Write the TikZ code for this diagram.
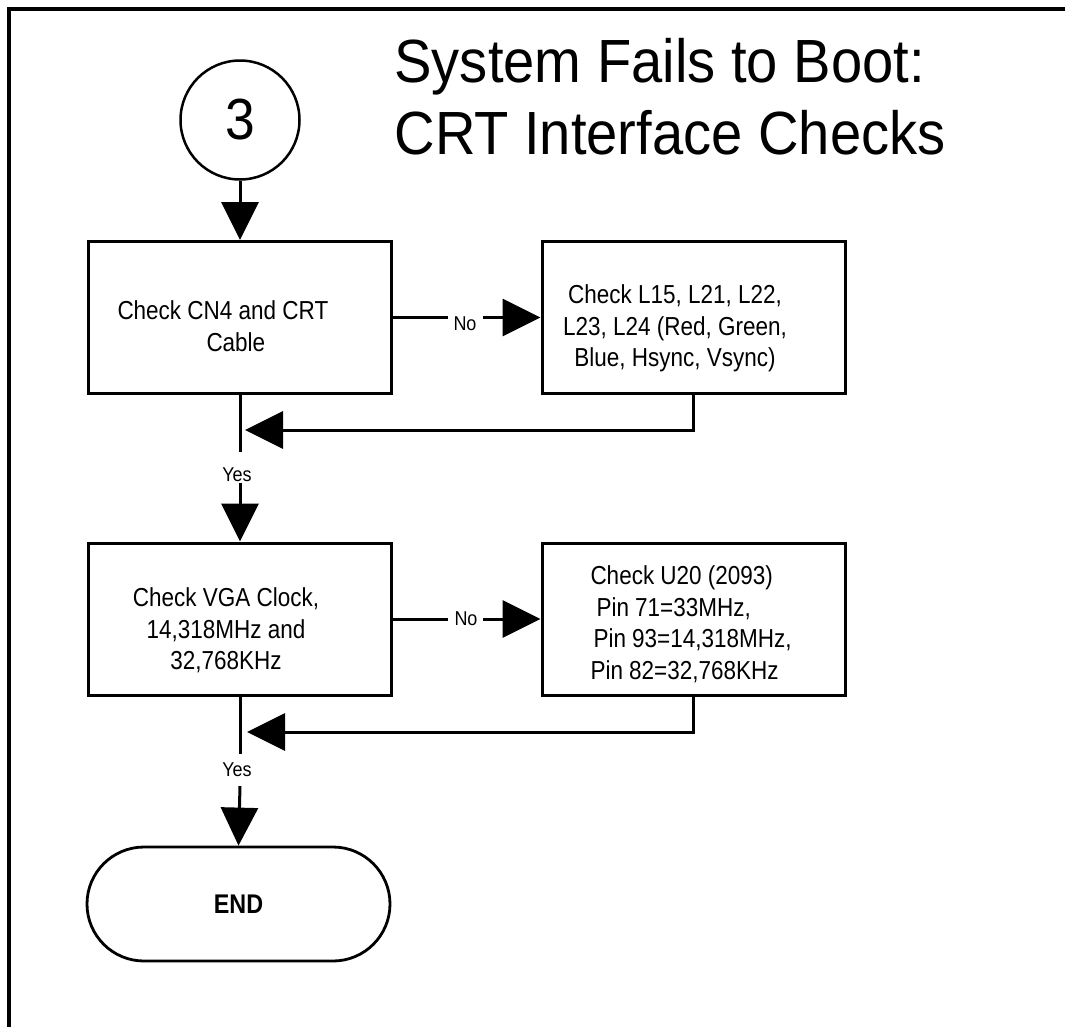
\documentclass[tikz,border=0pt]{standalone}
\usepackage{fontspec}
\setmainfont{Liberation Sans}
\newfontfamily\titlefont{Liberation Sans}[FakeStretch=0.92]
\newfontfamily\boxfont{Liberation Sans}[FakeStretch=0.865]
\newfontfamily\lblfont{Liberation Sans}[FakeStretch=0.9]
\usetikzlibrary{arrows.meta}
\begin{document}
\begin{tikzpicture}[x=1pt,y=-1pt,line width=3pt,
  arr/.style={-{Triangle[length=38pt,width=37pt]}},
  box/.style={draw,line width=3pt,minimum width=303pt,minimum height=152pt,inner sep=0pt},
  txt/.style={inner sep=0pt,font=\boxfont\fontsize{26}{31.5}\selectfont},
  lbl/.style={inner sep=0pt,font=\lblfont\fontsize{20}{22}\selectfont},
  frame/.style={line width=4pt}]
\useasboundingbox (0,0) rectangle (1065,1026);
% frame
\draw[frame] (9,1030) -- (9,9) -- (1070,9);
% title
\node[anchor=north west,align=left,inner sep=0pt,font=\titlefont\fontsize{61}{72}\selectfont] (title) at (393,30.6) {\strut System Fails to Boot:\\CRT Interface Checks};
% connector circle
\node[circle,draw,line width=2.5pt,minimum size=119pt,inner sep=0pt,font=\titlefont\fontsize{58}{60}\selectfont] (c3) at (240,120) {3};
% boxes
\node[box] (b1) at (240,317.5) {};
\node[box] (b2) at (693.5,317.5) {};
\node[box] (b3) at (240,619) {};
\node[box] (b4) at (693.5,619) {};
\node[draw,line width=2.8pt,rounded corners=57pt,minimum width=303pt,minimum height=114pt,inner sep=0pt,font=\boxfont\bfseries\fontsize{27}{30}\selectfont] (end) at (238.5,904) {END};
% box texts
\node[txt,anchor=north west,align=left] (t1) at (116,296) {\strut Check CN4 and CRT\\\hspace*{89pt}Cable};
\node[txt,anchor=north,align=center] (t2) at (675,280) {\strut Check L15, L21, L22,\\L23, L24 (Red, Green,\\Blue, Hsync, Vsync)};
\node[txt,anchor=north,align=center] (t3) at (226,583) {\strut Check VGA Clock,\\14,318MHz and\\32,768KHz};
\node[txt,anchor=north west,align=left] (t4) at (589,561) {\strut Check U20 (2093)\\\hspace*{6pt}Pin 71=33MHz,\\\hspace*{3pt}Pin 93=14,318MHz,\\Pin 82=32,768KHz};
% labels
\node[lbl] (no1) at (465,324) {No};
\node[lbl] (no2) at (466,619) {No};
\node[lbl] (yes1) at (237,475) {Yes};
\node[lbl] (yes2) at (237,770) {Yes};
% gap coordinates
\coordinate (g1a) at (448,317.5);
\coordinate (g1b) at (483,317.5);
\coordinate (g2a) at (448,619);
\coordinate (g2b) at (483,619);
\coordinate (y1a) at (240,452);
\coordinate (y1b) at (240,483);
\coordinate (y2a) at (240,754);
\coordinate (y2b) at (240,786);
\coordinate (r1) at (245,430);
\coordinate (r2) at (247,732);
% connectors
\draw[arr] (c3.south) -- (b1.north);
\draw (b1.east) -- (g1a);
\draw[arr] (g1b) -- (b2.west);
\draw[arr] (b2.south) |- (r1);
\draw (b1.south) -- (y1a);
\draw[arr] (y1b) -- (b3.north);
\draw (b3.east) -- (g2a);
\draw[arr] (g2b) -- (b4.west);
\draw[arr] (b4.south) |- (r2);
\draw (b3.south) -- (y2a);
\draw[arr] (y2b) -- (end.north);
\end{tikzpicture}
\end{document}
